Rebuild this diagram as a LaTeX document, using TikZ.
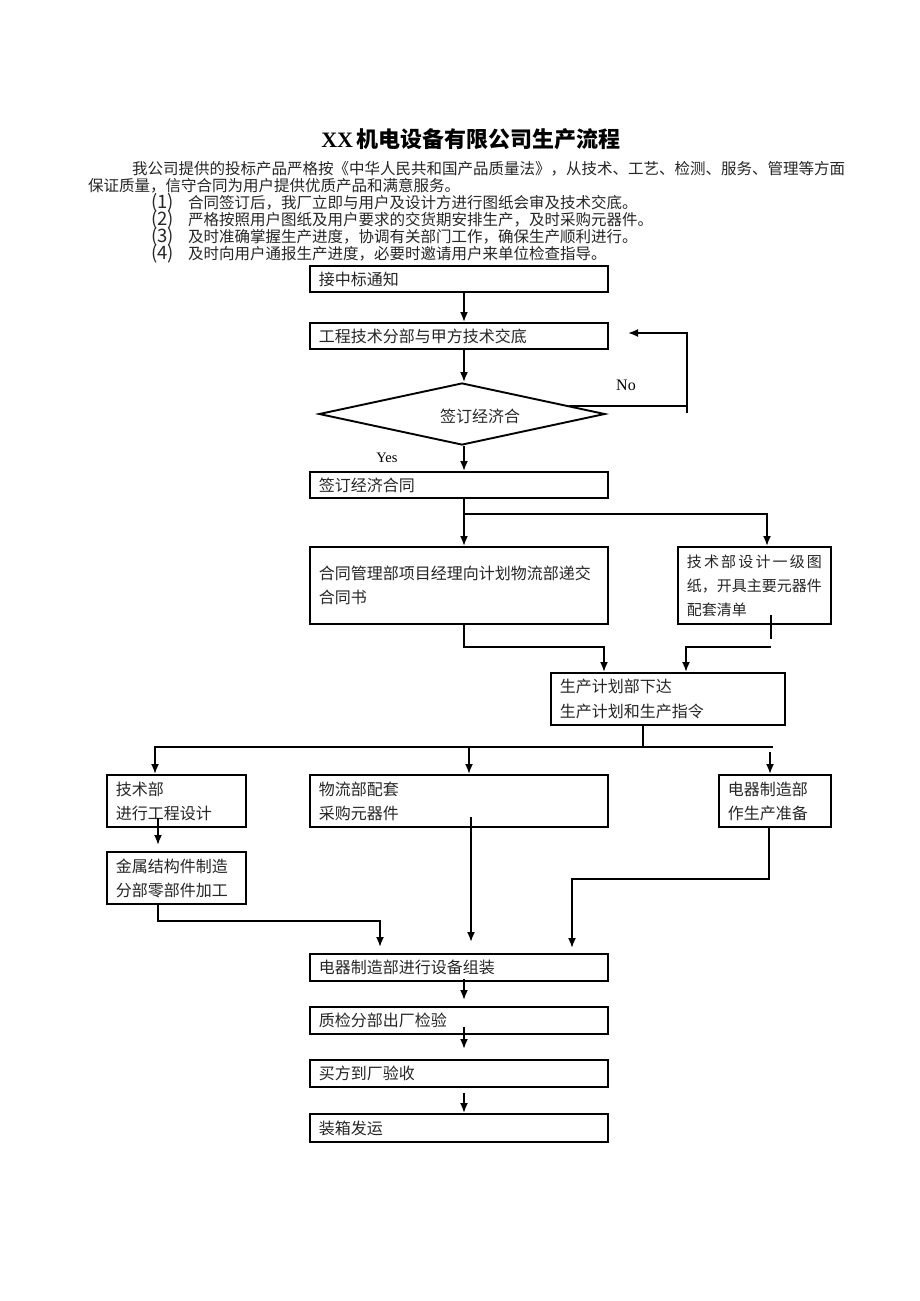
\documentclass[tikz,border=0pt]{standalone}
\usepackage{fontspec}
\setmainfont{Liberation Serif}
\newfontfamily\cjk{Noto Sans CJK SC}
\usetikzlibrary{shapes.geometric,arrows.meta,calc}
\newcommand{\itemnum}[1]{\makebox[40pt][l]{\hspace{3pt}{\fontsize{18.5}{16}\selectfont(#1)}}}
\begin{document}
\begin{tikzpicture}[x=1pt,y=-1pt,
  box/.style={draw, line width=1.9pt, rectangle, anchor=north west, inner xsep=9pt, inner ysep=0pt, align=left, font=\cjk\fontsize{16}{24}\selectfont, text=black!85},
  conn/.style={line width=1.8pt},
  arr/.style={conn, -{Latex[length=10pt,width=8pt]}},
  para/.style={anchor=west, inner sep=0pt, font=\cjk\fontsize{15.5}{16}\selectfont, text=black!85},
  lab/.style={inner sep=0pt, font=\fontsize{16}{16}\selectfont, text=black}]

\fill[white] (0,0) rectangle (920,1301);
\useasboundingbox (0,0) rectangle (920,1301);

% title and introduction
\node[inner sep=0pt] (title) at (471,139) {\fontsize{22}{24}\selectfont\bfseries XX\,{\cjk 机电设备有限公司生产流程}};
\node[para] (p1) at (132,169) {我公司提供的投标产品严格按《中华人民共和国产品质量法》，从技术、工艺、检测、服务、管理等方面};
\node[para] (p2) at (88,186) {保证质量，信守合同为用户提供优质产品和满意服务。};
\node[para] (p3) at (148,203) {\itemnum{1}合同签订后，我厂立即与用户及设计方进行图纸会审及技术交底。};
\node[para] (p4) at (148,220) {\itemnum{2}严格按照用户图纸及用户要求的交货期安排生产，及时采购元器件。};
\node[para] (p5) at (148,237) {\itemnum{3}及时准确掌握生产进度，协调有关部门工作，确保生产顺利进行。};
\node[para] (p6) at (148,254) {\itemnum{4}及时向用户通报生产进度，必要时邀请用户来单位检查指导。};

% boxes
\node[box, text width=280pt, minimum height=26pt] (b1) at (309,265) {接中标通知};
\node[box, text width=280pt, minimum height=26pt] (b2) at (309,322) {工程技术分部与甲方技术交底};
\node[draw, diamond, line width=1.9pt, inner sep=0pt, minimum width=286pt, minimum height=62pt] (d) at (462,414) {};
\node[inner sep=0pt, font=\cjk\fontsize{16}{20}\selectfont, text=black!85] (dt) at (480,416) {签订经济合};
\node[box, text width=280pt, minimum height=26pt] (b3) at (309,471) {签订经济合同};
\node[box, text width=280pt, minimum height=77pt] (b4) at (309,546) {合同管理部项目经理向计划物流部递交\\合同书};
\node[box, text width=135pt, minimum height=77pt, font=\cjk\fontsize{15}{24}\selectfont] (b5) at (677,546) {\makebox[135pt][s]{技\hfil 术\hfil 部\hfil 设\hfil 计\hfil 一\hfil 级\hfil 图}\\纸，开具主要元器件\\配套清单};
\node[box, text width=216pt, minimum height=52pt, font=\cjk\fontsize{16}{25}\selectfont] (b6) at (550,672) {生产计划部下达\\生产计划和生产指令};
\node[box, text width=121pt, minimum height=52pt] (b7) at (106,774) {技术部\\进行工程设计};
\node[box, text width=280pt, minimum height=52pt] (b8) at (309,774) {物流部配套\\采购元器件};
\node[box, text width=94pt, minimum height=52pt] (b9) at (718,774) {电器制造部\\作生产准备};
\node[box, text width=121pt, minimum height=52pt] (b10) at (106,851) {金属结构件制造\\分部零部件加工};
\node[box, text width=280pt, minimum height=27pt] (b11) at (309,953) {电器制造部进行设备组装};
\node[box, text width=280pt, minimum height=27pt] (b12) at (309,1006) {质检分部出厂检验};
\node[box, text width=280pt, minimum height=27pt] (b13) at (309,1059) {买方到厂验收};
\node[box, text width=280pt, minimum height=28pt] (b14) at (309,1113) {装箱发运};

% labels
\node[lab] (no) at (626,385) {No};
\node[lab, font=\fontsize{14.5}{16}\selectfont] (yes) at (387,458) {Yes};

% coordinates
\coordinate (mx) at (464,0);
\coordinate (nr) at (687,413);
\coordinate (nt) at (628,333);
\coordinate (j1) at (767,514);
\coordinate (j2) at (604,647);
\coordinate (j3) at (771,647);
\coordinate (j4) at (686,647);
\coordinate (j5) at (643,747);
\coordinate (l7) at (155,747);
\coordinate (r9) at (773,747);
\coordinate (m8) at (469,747);
\coordinate (r9a) at (770,752);
\coordinate (c7) at (158,818);
\coordinate (j6) at (380,921);
\coordinate (c8) at (471,817);
\coordinate (c9) at (769,879);
\coordinate (j7) at (572,879);

% connectors
\draw[arr] (b1.south -| mx) -- (b2.north -| mx);
\draw[arr] (b2.south -| mx) -- (d.north -| mx);
\draw[arr] (d.south -| mx) -- (b3.north -| mx);
\coordinate (np) at ($(d.north)!0.74!(d.east)$);
\draw[conn] (np) -- (np -| nr);
\draw[arr] (nr) -- (nr |- nt) -- (nt);

\draw[arr] (b3.south -| mx) -- (b4.north -| mx);
\draw[arr] (j1 -| mx) -- (j1) -- (b5.north -| j1);

\draw[arr] (b4.south -| mx) |- (j2) -- (b6.north -| j2);
\draw[conn] ($(b5.south -| j3)+(0,-10)$) -- ($(b5.south -| j3)+(0,14)$);
\draw[arr] (j3) -- (j4) -- (b6.north -| j4);

\draw[conn] (b6.south -| j5) -- (j5);
\draw[arr] (r9) -- (l7) -- (b7.north -| l7);
\draw[arr] (m8) -- (b8.north -| m8);
\draw[arr] (r9a) -- (b9.north -| r9a);

\draw[arr, shorten >=6pt] (c7) -- (b10.north -| c7);
\draw[arr, shorten >=6pt] (b10.south -| c7) |- (j6) -- (b11.north -| j6);
\draw[arr, shorten >=11pt] (c8) -- (b11.north -| c8);
\draw[arr, shorten >=5pt] (b9.south -| c9) -- (c9) -- (j7) -- (b11.north -| j7);

\draw[arr, shorten >=6pt] ($(b11.south -| mx)+(0,-3)$) -- (b12.north -| mx);
\draw[arr, shorten >=10pt] ($(b12.south -| mx)+(0,-8)$) -- (b13.north -| mx);
\draw[arr] ($(b13.south -| mx)+(0,5)$) -- (b14.north -| mx);
\end{tikzpicture}
\end{document}
